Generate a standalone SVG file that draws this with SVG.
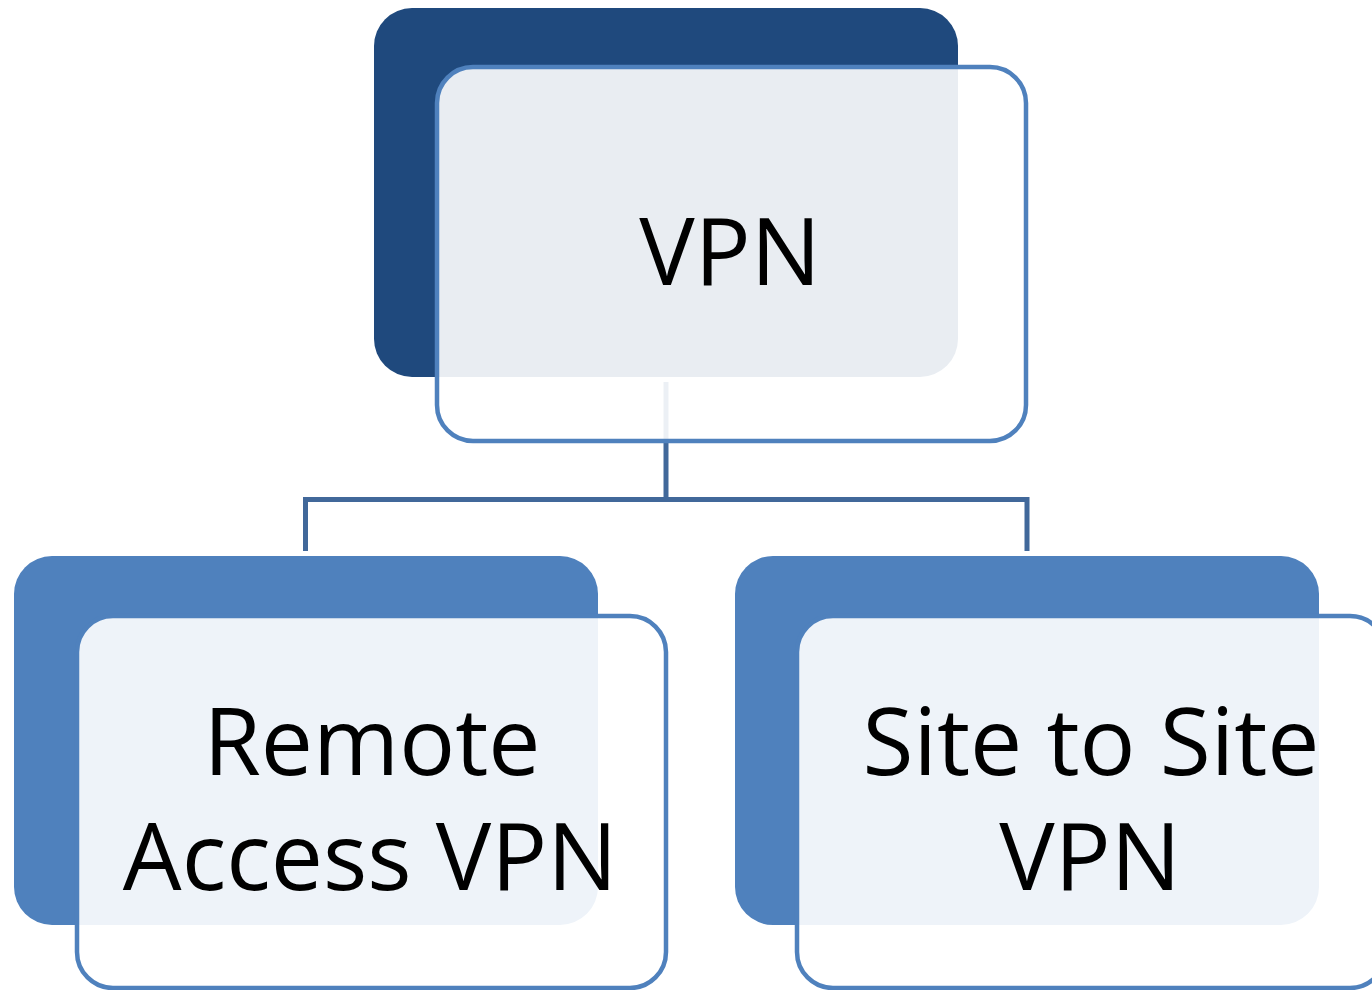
<svg xmlns="http://www.w3.org/2000/svg" width="1372" height="990" viewBox="0 0 1372 990">
<style>
.back1{fill:#1F497D}
.back2{fill:#4F81BD}
.front{fill:#FFFFFF;fill-opacity:0.9;stroke:#4F81BD;stroke-width:4.5}
.conn{fill:none;stroke:#41689A;stroke-width:5}
.lbl{font-family:"Open Sans","Liberation Sans",sans-serif;font-size:93px;fill:#000000;text-anchor:middle}
</style>
<rect width="1372" height="990" fill="#FFFFFF"/>
<g id="connectors">
<path class="conn" d="M666,382 V499.5"/>
<path class="conn" d="M305.5,551 V499.5 H1027 V551"/>
</g>
<g id="node-vpn">
<rect class="back1" x="374" y="8" width="584" height="369" rx="38"/>
<rect class="front" x="437" y="67" width="589" height="374" rx="36"/>
<text class="lbl" x="730" y="285">VPN</text>
</g>
<g id="node-remote">
<rect class="back2" x="14" y="556" width="584" height="369" rx="38"/>
<rect class="front" x="77" y="616" width="589" height="372" rx="36"/>
<text class="lbl" x="372" y="775">Remote</text>
<text class="lbl" x="370" y="890">Access VPN</text>
</g>
<g id="node-site">
<rect class="back2" x="735" y="556" width="584" height="369" rx="38"/>
<rect class="front" x="797" y="616" width="589" height="372" rx="36"/>
<text class="lbl" x="1091" y="775">Site to Site</text>
<text class="lbl" x="1090" y="890">VPN</text>
</g>
</svg>
